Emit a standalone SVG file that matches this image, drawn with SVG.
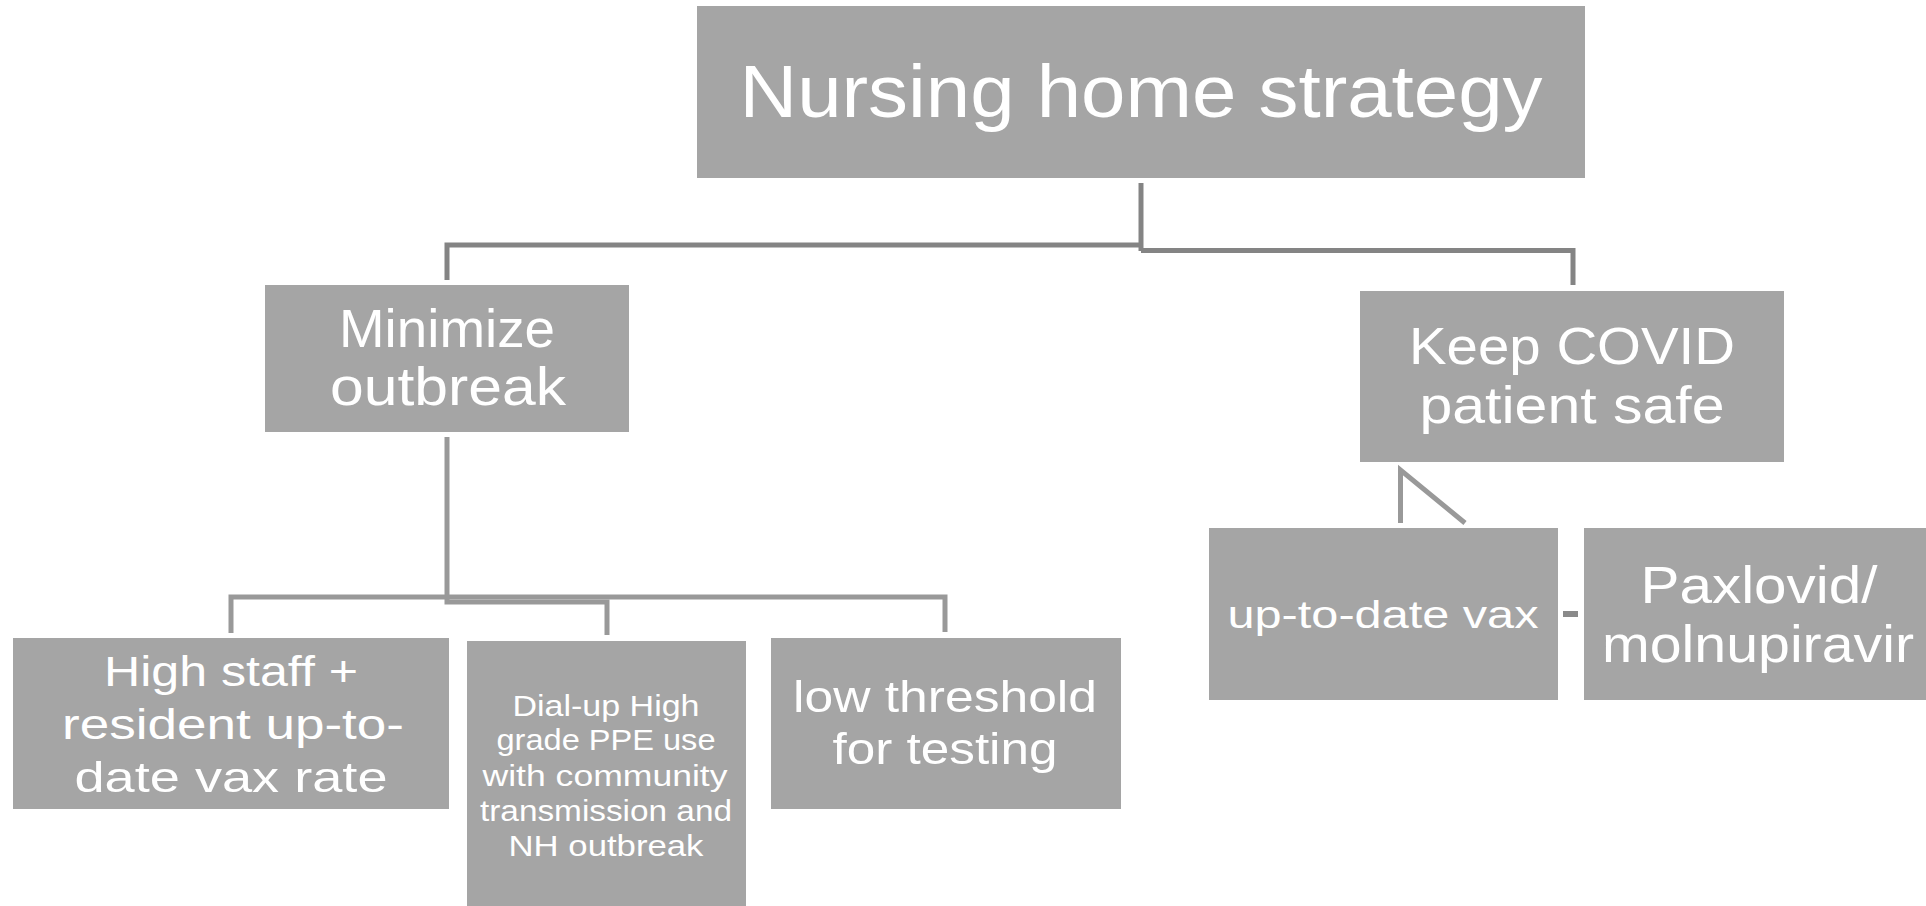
<svg xmlns="http://www.w3.org/2000/svg" width="1926" height="906" viewBox="0 0 1926 906">
<style>
.box{fill:#a5a5a5}
.t{font-family:"Liberation Sans",Arial,sans-serif;fill:#ffffff;text-anchor:middle}
.c1{fill:none;stroke:#848484;stroke-width:5}
.c2{fill:none;stroke:#999999;stroke-width:5}
</style>
<rect width="1926" height="906" fill="#ffffff"/>
<g id="connectors">
<path class="c1" d="M1141,183 V251"/>
<path class="c1" d="M1141,245 H447 V280"/>
<path class="c1" d="M1141,250.5 H1573 V285"/>
<path class="c2" d="M447,437 V602 H607 V635"/>
<path class="c2" d="M231,633 V597 H945 V632"/>
<path class="c2" d="M1400.5,523 V470 L1465,523"/>
<rect x="1563" y="611" width="15" height="6" fill="#8a8a8a"/>
</g>
<g id="node-root">
<rect class="box" x="697" y="6" width="888" height="172"/>
<text class="t" x="1141" y="117" font-size="74" textLength="803" lengthAdjust="spacingAndGlyphs">Nursing home strategy</text>
</g>
<g id="node-minimize">
<rect class="box" x="265" y="285" width="364" height="147"/>
<text class="t" x="447" y="347" font-size="53" textLength="216" lengthAdjust="spacingAndGlyphs">Minimize</text>
<text class="t" x="448" y="405" font-size="53" textLength="236" lengthAdjust="spacingAndGlyphs">outbreak</text>
</g>
<g id="node-keep">
<rect class="box" x="1360" y="291" width="424" height="171"/>
<text class="t" x="1572" y="364" font-size="52" textLength="326" lengthAdjust="spacingAndGlyphs">Keep COVID</text>
<text class="t" x="1572" y="423" font-size="52" textLength="305" lengthAdjust="spacingAndGlyphs">patient safe</text>
</g>
<g id="node-vax-rate">
<rect class="box" x="13" y="638" width="436" height="171"/>
<text class="t" x="231" y="686" font-size="43" textLength="254" lengthAdjust="spacingAndGlyphs">High staff +</text>
<text class="t" x="233" y="739" font-size="43" textLength="342" lengthAdjust="spacingAndGlyphs">resident up-to-</text>
<text class="t" x="231" y="792" font-size="43" textLength="313" lengthAdjust="spacingAndGlyphs">date vax rate</text>
</g>
<g id="node-ppe">
<rect class="box" x="467" y="641" width="279" height="270"/>
<text class="t" x="606" y="716" font-size="29" textLength="187" lengthAdjust="spacingAndGlyphs">Dial-up High</text>
<text class="t" x="606" y="750" font-size="29" textLength="219" lengthAdjust="spacingAndGlyphs">grade PPE use</text>
<text class="t" x="605" y="786" font-size="29" textLength="245" lengthAdjust="spacingAndGlyphs">with community</text>
<text class="t" x="606" y="821" font-size="29" textLength="252" lengthAdjust="spacingAndGlyphs">transmission and</text>
<text class="t" x="606" y="856" font-size="29" textLength="195" lengthAdjust="spacingAndGlyphs">NH outbreak</text>
</g>
<g id="node-testing">
<rect class="box" x="771" y="638" width="350" height="171"/>
<text class="t" x="945" y="712" font-size="45" textLength="304" lengthAdjust="spacingAndGlyphs">low threshold</text>
<text class="t" x="945" y="764" font-size="45" textLength="225" lengthAdjust="spacingAndGlyphs">for testing</text>
</g>
<g id="node-uptodate">
<rect class="box" x="1209" y="528" width="349" height="172"/>
<text class="t" x="1383" y="628" font-size="38" textLength="311" lengthAdjust="spacingAndGlyphs">up-to-date vax</text>
</g>
<g id="node-paxlovid">
<rect class="box" x="1584" y="528" width="350" height="172"/>
<text class="t" x="1759" y="603" font-size="52" textLength="237" lengthAdjust="spacingAndGlyphs">Paxlovid/</text>
<text class="t" x="1758" y="662" font-size="52" textLength="312" lengthAdjust="spacingAndGlyphs">molnupiravir</text>
</g>
</svg>
